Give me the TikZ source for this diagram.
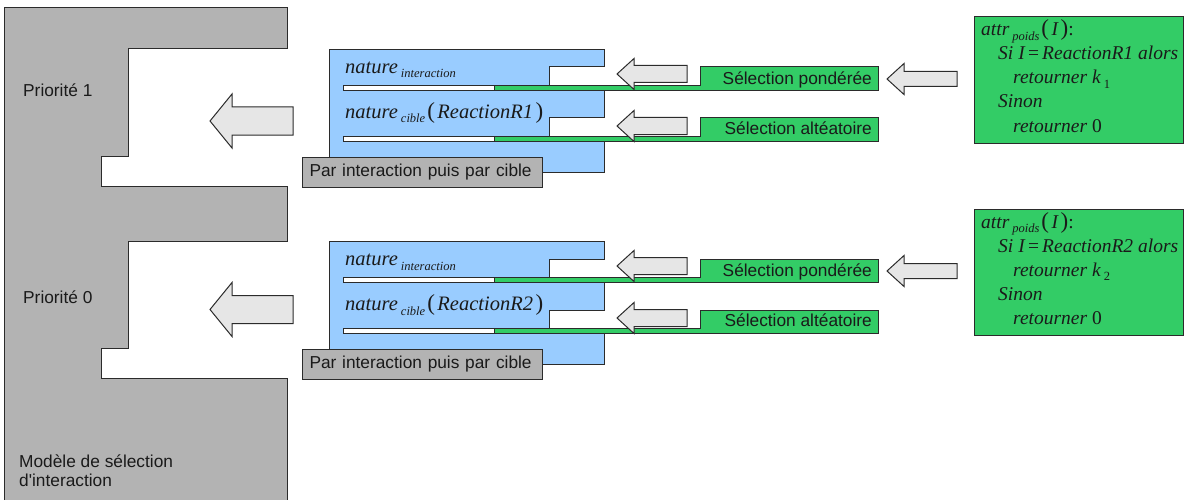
\documentclass[tikz,border=0pt]{standalone}
\usepackage{fontspec}
\setmainfont{Liberation Sans}
\newfontfamily\tms{Liberation Serif}
\usetikzlibrary{positioning}
\definecolor{modgray}{HTML}{B3B3B3}
\definecolor{natblue}{HTML}{99CCFF}
\definecolor{selgreen}{HTML}{33CC66}
\definecolor{arrgray}{HTML}{E6E6E6}
\definecolor{edge}{HTML}{2B2B2B}
\definecolor{ink}{HTML}{1A1A1A}
\newcommand\sbs[1]{\hspace{3pt}\raisebox{-4.5pt}{\fontsize{12.5}{12.5}\selectfont #1}}
\newcommand\lpar{\hspace{2pt}{\upshape\fontsize{23}{23}\selectfont(}\hspace{2.5pt}}
\newcommand\rpar{\hspace{2.5pt}{\upshape\fontsize{23}{23}\selectfont)}}
% left pointing block arrow: tip x, mid y, base x, end x, head half, shaft half
\newcommand\blockarrow[6]{\draw[barrow] (#1,#2) -- (#3,#2-#5) -- (#3,#2-#6) -- (#4,#2-#6)
  -- (#4,#2+#6) -- (#3,#2+#6) -- (#3,#2+#5) -- cycle;}
\tikzset{modshape/.style={draw=edge,line width=1pt,fill=modgray},
  natshape/.style={draw=edge,line width=1pt,fill=natblue},
  selshape/.style={draw=edge,line width=1pt,fill=selgreen},
  barshape/.style={draw=edge,line width=1pt,fill=white},
  barrow/.style={draw=edge,line width=1pt,fill=arrgray,line join=miter},
  lbl/.style={inner sep=0,text=ink,font=\fontsize{17.3}{20}\selectfont},
  fml/.style={inner sep=0,anchor=base west,text=ink,font=\tms\itshape\fontsize{20.5}{24}\selectfont},
  attrline/.style={inner sep=0,anchor=base west,text=ink,font=\tms\itshape\fontsize{19.5}{24}\selectfont},
  parbox/.style={draw=edge,line width=1pt,fill=modgray,anchor=north west,inner xsep=7pt,inner ysep=0,
    text width=226pt,minimum height=30pt,align=left,text=ink,font=\fontsize{17.3}{20}\selectfont}}

\begin{document}
\begin{tikzpicture}[x=1pt,y=-1pt]
\useasboundingbox (0,0) rectangle (1185,500);
% selection model
\draw[modshape] (4,8) -- (287,8) -- (287,49) -- (128,49) -- (128,156) -- (101,156) -- (101,186)
  -- (287,186) -- (287,241) -- (128,241) -- (128,348) -- (101,348) -- (101,378) -- (287,378)
  -- (287,504) -- (4,504) -- cycle;
\node[lbl,anchor=base west] (prio1) at (23,97) {Priorité 1};
\node[lbl,anchor=base west] (prio0) at (23,303) {Priorité 0};
\node[lbl,anchor=base west] (model) at (19,467) {Modèle de sélection};
\node[lbl,anchor=base west] (model2) at (19,486) {d\textquotesingle interaction};
\blockarrow{210}{121}{232}{293}{27}{14}
\blockarrow{210}{309.5}{232}{293}{27}{14}
\foreach \dy/\n in {0/1,192/2}{
\begin{scope}[shift={(0,\dy)}]
\draw[natshape] (329,49.5) -- (604,49.5) -- (604,67) -- (549,67) -- (549,88) -- (604,88) -- (604,118)
  -- (549,118) -- (549,138) -- (604,138) -- (604,172) -- (329,172) -- cycle;
\draw[barshape] (343,85.5) rectangle (494,90.5);
\draw[barshape] (343,136) rectangle (494,141);
\draw[selshape] (494,85.5) -- (700,85.5) -- (700,67) -- (878,67) -- (878,90.5) -- (494,90.5) -- cycle;
\draw[selshape] (494,136) -- (700,136) -- (700,118) -- (878,118) -- (878,141) -- (494,141) -- cycle;
\node[fml] (nint\n) at (345,73.5) {nature\sbs{interaction}};
\node[fml] (ncib\n) at (345,118.5) {nature\sbs{cible}\lpar ReactionR\n\rpar};
\node[lbl,anchor=base east] (pond\n) at (872,84.5) {Sélection pondérée};
\node[lbl,anchor=base east] (alea\n) at (872,134.5) {Sélection altéatoire};
\blockarrow{617}{74}{634}{687}{15.5}{8.5}
\blockarrow{617}{126}{634}{687}{15.5}{8.5}
\blockarrow{887}{79}{904}{957}{15.5}{7.5}
\node[parbox] (par\n) at (302,157) {Par interaction puis par cible};
\draw[selshape] (974,17) rectangle (1183,143);
\node[attrline] (attr\n) at (981,36) {attr\sbs{poids}\lpar I\rpar{\upshape:}};
\node[attrline] (si\n) at (998,60) {Si I{\upshape\,=\,}ReactionR\n\ alors};
\node[attrline] (ret\n) at (1013,84) {retourner k\sbs{\upshape\n}};
\node[attrline] (sinon\n) at (998,108) {Sinon};
\node[attrline] (zero\n) at (1013,132) {retourner {\upshape 0}};
\end{scope}
}
\end{tikzpicture}
\end{document}
